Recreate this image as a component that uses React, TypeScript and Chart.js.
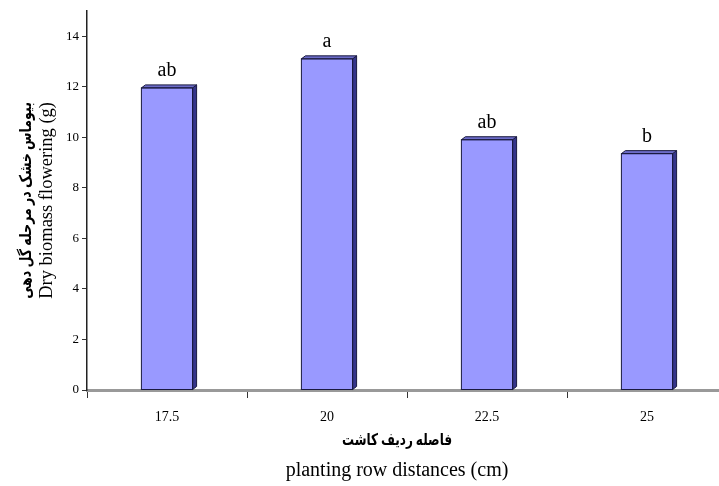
import React, { useEffect, useRef } from "react";
import { Chart, registerables } from "chart.js";

Chart.register(...registerables);

const categories = ["17.5", "20", "22.5", "25"];
const biomass = [11.95, 13.1, 9.9, 9.35];
const letters = ["ab", "a", "ab", "b"];
const yMaxTick = 14;
const yAxisMax = 15;
const yStep = 2;
const yTitleFa = "بیوماس خشک در مرحله گل دهی";
const yTitleEn = "Dry biomass flowering (g)";
const xTitleFa = "فاصله ردیف کاشت";
const xTitleEn = "planting row distances (cm)";

const SERIF = "'Liberation Serif', 'Times New Roman', 'DejaVu Serif', serif";
const FA = "'Liberation Serif', 'DejaVu Sans', 'Noto Sans', sans-serif";

const bar3d = {
  id: "bar3d",
  afterDatasetsDraw(chart: any) {
    const ctx = chart.ctx;
    const meta = chart.getDatasetMeta(0);
    const dx = 4;
    const dy = 3;
    ctx.save();
    meta.data.forEach((bar: any, i: number) => {
      const { x, y, base, width } = bar.getProps(["x", "y", "base", "width"], true);
      const left = x - width / 2;
      const right = x + width / 2;
      ctx.beginPath();
      ctx.moveTo(right, y);
      ctx.lineTo(right + dx, y - dy);
      ctx.lineTo(right + dx, base - dy);
      ctx.lineTo(right, base);
      ctx.closePath();
      ctx.fillStyle = "#35358a";
      ctx.fill();
      ctx.strokeStyle = "#1a1a40";
      ctx.lineWidth = 1;
      ctx.stroke();
      ctx.beginPath();
      ctx.moveTo(left, y);
      ctx.lineTo(left + dx, y - dy);
      ctx.lineTo(right + dx, y - dy);
      ctx.lineTo(right, y);
      ctx.closePath();
      ctx.fillStyle = "#6c6cc8";
      ctx.fill();
      ctx.stroke();
      ctx.strokeRect(left, y, width, base - y);
      ctx.fillStyle = "#000";
      ctx.font = `20px ${SERIF}`;
      ctx.textAlign = "center";
      ctx.textBaseline = "alphabetic";
      ctx.fillText(letters[i], x, y - 12);
    });
    ctx.restore();
  },
  afterDraw(chart: any) {
    const ctx = chart.ctx;
    const area = chart.chartArea;
    ctx.save();
    ctx.fillStyle = "#000";
    ctx.textAlign = "center";
    ctx.textBaseline = "middle";
    const cy = (area.top + area.bottom) / 2;
    ctx.save();
    ctx.translate(27, cy);
    ctx.rotate(-Math.PI / 2);
    ctx.scale(0.79, 1);
    ctx.font = `bold 16px ${FA}`;
    ctx.fillText(yTitleFa, 0, 0);
    ctx.restore();
    ctx.save();
    ctx.translate(47, cy);
    ctx.rotate(-Math.PI / 2);
    ctx.font = `18.5px ${SERIF}`;
    ctx.fillText(yTitleEn, 0, 0);
    ctx.restore();
    ctx.save();
    ctx.translate(397, 441);
    ctx.scale(0.75, 1);
    ctx.font = `bold 16px ${FA}`;
    ctx.fillText(xTitleFa, 0, 0);
    ctx.restore();
    ctx.font = `20px ${SERIF}`;
    ctx.fillText(xTitleEn, 397, 471);
    ctx.restore();
  },
};

export default function App() {
  const ref = useRef<HTMLCanvasElement>(null);
  useEffect(() => {
    if (!ref.current) return;
    const chart = new Chart(ref.current, {
      type: "bar",
      data: {
        labels: categories,
        datasets: [
          {
            data: biomass,
            backgroundColor: "#9999ff",
            borderColor: "#1a1a40",
            borderWidth: 0,
            categoryPercentage: 1,
            barPercentage: 0.32,
          },
        ],
      },
      options: {
        responsive: false,
        animation: false,
        devicePixelRatio: 1,
        layout: { padding: { top: 8, right: 13, left: 0, bottom: 0 } },
        plugins: { legend: { display: false }, tooltip: { enabled: false } },
        scales: {
          x: {
            offset: true,
            grid: {
              offset: true,
              drawOnChartArea: false,
              drawTicks: true,
              tickLength: 8,
              color: "#333",
              lineWidth: 1,
            },
            border: { display: true, color: "#999", width: 3 },
            ticks: {
              color: "#000",
              font: { family: SERIF, size: 14 },
              padding: 11,
            },
            afterFit: (s: any) => {
              s.height = 96;
            },
          },
          y: {
            min: 0,
            max: yAxisMax,
            grid: {
              drawOnChartArea: false,
              drawTicks: true,
              tickLength: 5,
              color: "#333",
            },
            border: { display: true, color: "#222", width: 1.5 },
            ticks: {
              stepSize: yStep,
              color: "#000",
              font: { family: SERIF, size: 13 },
              padding: 3,
            },
            afterBuildTicks: (s: any) => {
              s.ticks = s.ticks.filter((t: any) => t.value <= yMaxTick);
            },
            afterFit: (s: any) => {
              s.width = 87;
            },
          },
        },
      },
      plugins: [bar3d],
    });
    return () => chart.destroy();
  }, []);
  return (
    <div
      style={{
        position: "absolute",
        left: 0,
        top: 0,
        width: 719,
        height: 486,
        overflow: "hidden",
        background: "#fff",
      }}
    >
      <canvas ref={ref} width={740} height={486} />
    </div>
  );
}
